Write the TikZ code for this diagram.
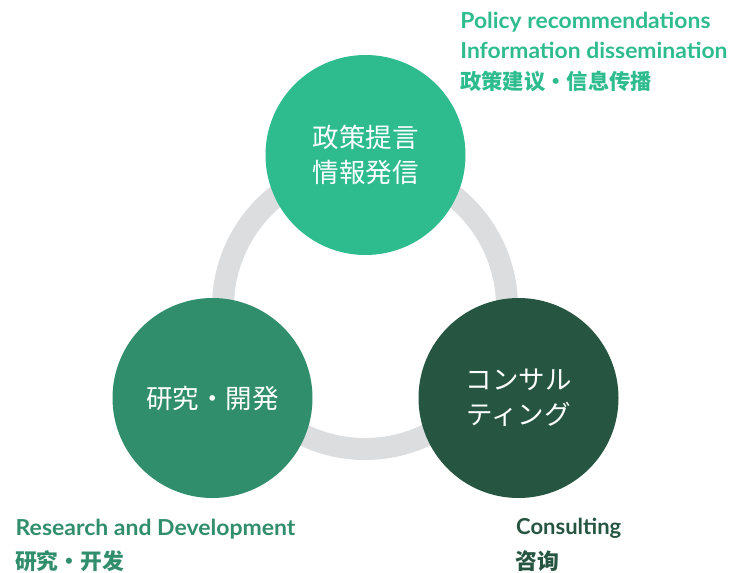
\documentclass[tikz,border=0pt]{standalone}
\usepackage{fontspec}
\setmainfont{Lato}
\newfontfamily\jpfont{Noto Sans CJK JP}
\newfontfamily\scfont{Noto Sans CJK SC}
\definecolor{topgreen}{HTML}{2EBC8E}
\definecolor{midgreen}{HTML}{318E6D}
\definecolor{darkgreen}{HTML}{265641}
\definecolor{ringgray}{HTML}{DCDDDF}
\tikzset{
  bubble/.style={circle, inner sep=0pt, minimum size=200pt, text=white, align=center,
    font=\jpfont\fontsize{26.5}{35}\selectfont},
  entitle/.style={anchor=base west, inner sep=0pt, font=\bfseries\fontsize{22}{26}\selectfont},
  cntitle/.style={anchor=west, inner sep=0pt, font=\scfont\bfseries\fontsize{21.3}{24}\selectfont},
}
\begin{document}
\begin{tikzpicture}[x=1pt, y=-1pt]
\useasboundingbox (0,0) rectangle (731,573);
% ring
\node[circle, draw=ringgray, line width=22pt, minimum size=284pt, inner sep=0pt] (ring) at (365,307) {};
% circles
\node[bubble, fill=topgreen] (policy) at (365.5,155) {政策提言\\情報発信};
\node[bubble, fill=midgreen] (research) at (212.5,398) {研究・開発};
\node[bubble, fill=darkgreen] (consult) at (518.5,398) {コンサル\\ティング};
% labels top
\node[entitle, text=topgreen] (pol1) at (460.2,28.3) {\scalebox{1.04}[1]{Policy recommendations}};
\node[entitle, text=topgreen] (pol2) at (460.2,58.3) {\scalebox{1.04}[1]{Information dissemination}};
\node[cntitle, text=topgreen] (pol3) at (460,81) {政策建议・信息传播};
% labels bottom left
\node[entitle, text=midgreen] (res1) at (15.5,535.7) {\scalebox{1.045}[1]{Research and Development}};
\node[cntitle, text=midgreen, font=\scfont\bfseries\fontsize{21.8}{24}\selectfont] (res2) at (15,561) {研究・开发};
% labels bottom right
\node[entitle, text=darkgreen] (con1) at (516,534.5) {Consulting};
\node[cntitle, text=darkgreen, font=\scfont\bfseries\fontsize{21.8}{24}\selectfont] (con2) at (515.5,561) {咨询};
\end{tikzpicture}
\end{document}
